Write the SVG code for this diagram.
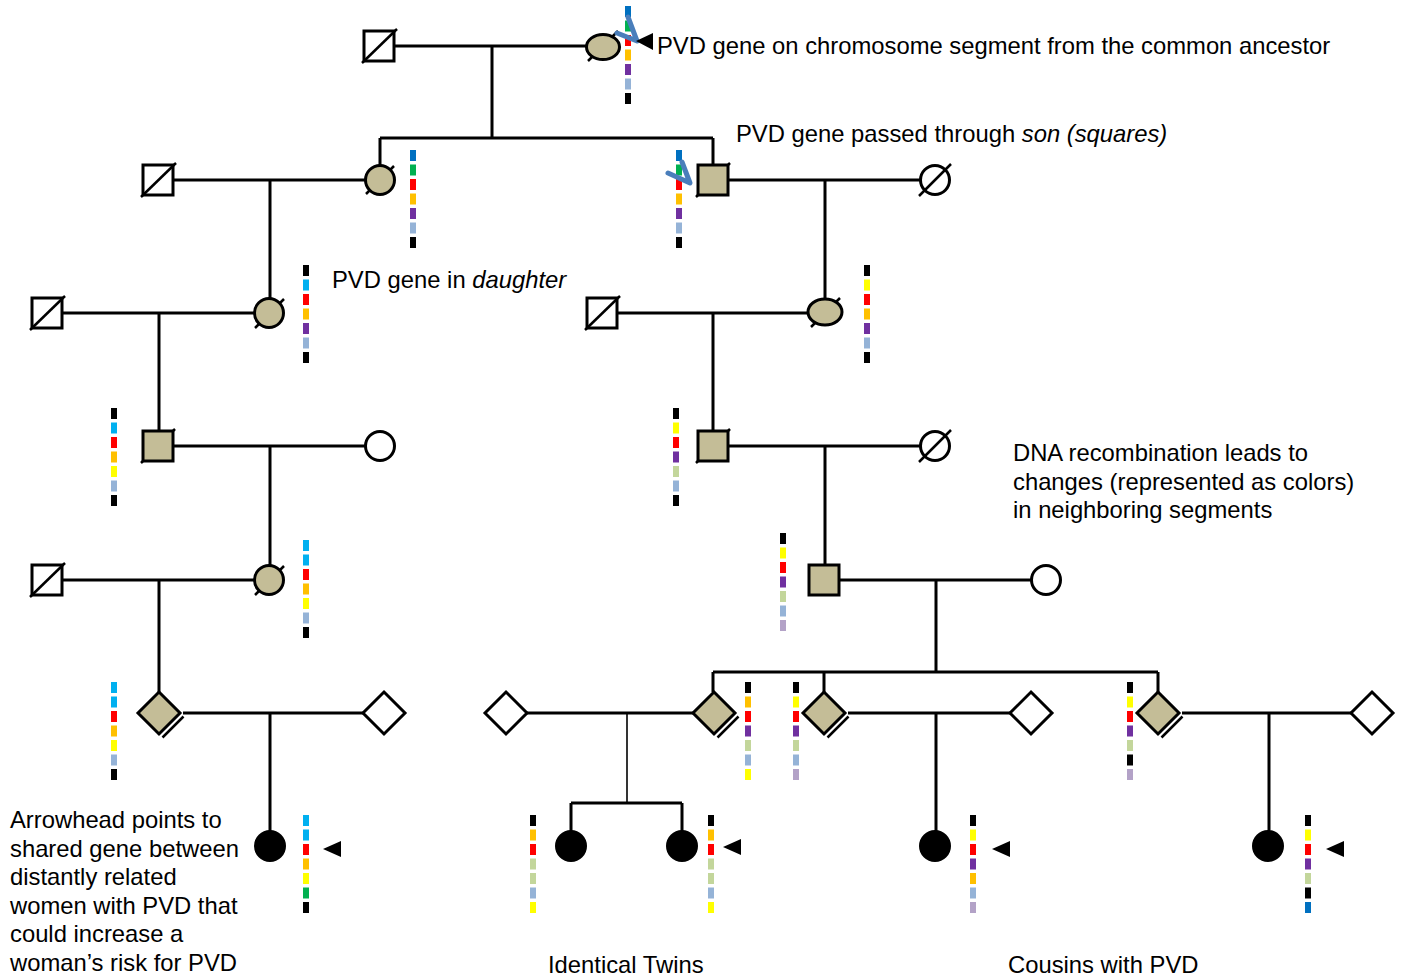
<svg xmlns="http://www.w3.org/2000/svg" width="1407" height="978" viewBox="0 0 1407 978">
<style>
.ln{stroke:#000;stroke-width:3;fill:none}
.thin{stroke:#000;stroke-width:1.6;fill:none}
.sym{stroke:#000;stroke-width:3}
.tan{fill:#C4BD97}
.wh{fill:#fff}
.bk{fill:#000}
.sl{stroke:#000;stroke-width:2.5}
.txt{font-family:"Liberation Sans",Arial,sans-serif;font-size:23.8px;fill:#000}
.k{fill:#000}.b{fill:#0070C0}.g{fill:#00B050}.r{fill:#FF0000}.o{fill:#FFC000}.p{fill:#7030A0}.lb{fill:#95B3D7}.c{fill:#00B0F0}.y{fill:#FFFF00}.lg{fill:#C3D69B}.lv{fill:#B3A2C7}
.ar{stroke:#4A7EBB;stroke-width:5;fill:none;stroke-linecap:round;stroke-linejoin:round}
</style>
<defs>
<symbol id="dbl" overflow="visible"><path d="M21,0 L0,21" stroke="#000" stroke-width="2.5" fill="none" transform="translate(3.5,3.5)"/></symbol>
</defs>
<rect width="1407" height="978" fill="#fff"/>

<g id="connectors">
<path class="ln" d="M394,46 H586 M492,46 V138 M380,138 H713 M380,138 V165 M713,138 V165"/>
<path class="ln" d="M173,180 H365 M270,180 V298 M728,180 H920 M825,180 V300"/>
<path class="ln" d="M62,313 H255 M159,313 V431 M617,313 H808 M713,313 V431"/>
<path class="ln" d="M173,446 H365 M270,446 V565 M728,446 H920 M825,446 V565"/>
<path class="ln" d="M62,580 H255 M159,580 V692 M839,580 H1031 M936,580 V672 M713,672 H1158 M713,672 V692 M824,672 V692 M1158,672 V692"/>
<path class="ln" d="M183,713 H363 M270,713 V831 M527,713 H693 M848,713 H1010 M936,713 V831 M1182,713 H1351 M1269,713 V831"/>
<path class="thin" d="M627,713 V803"/>
<path class="ln" d="M571,803 H682 M571,803 V831 M682,803 V831"/>
</g>

<!-- Generation 1 -->
<g id="gf1"><rect class="sym wh" x="364" y="31" width="30" height="30"/><line class="sl" x1="362" y1="63" x2="397" y2="29"/></g>
<g id="gm1"><line class="sl" x1="588" y1="61" x2="618" y2="31"/><ellipse class="sym tan" cx="603" cy="47" rx="16.5" ry="12.5"/></g>

<!-- Generation 2 -->
<g id="f2a"><rect class="sym wh" x="143" y="165" width="30" height="30"/><line class="sl" x1="141" y1="197" x2="176" y2="163"/></g>
<g id="d2a"><line class="sl" x1="366" y1="194" x2="394" y2="166"/><circle class="sym tan" cx="380" cy="180" r="14.5"/></g>
<g id="s2b"><line class="sl" x1="696" y1="197" x2="730" y2="163"/><rect class="sym tan" x="698" y="165" width="30" height="30"/></g>
<g id="m2b"><circle class="sym wh" cx="935" cy="180" r="14.5"/><line class="sl" x1="919" y1="196" x2="951" y2="164"/></g>

<!-- Generation 3 -->
<g id="f3a"><rect class="sym wh" x="32" y="298" width="30" height="30"/><line class="sl" x1="30" y1="330" x2="65" y2="296"/></g>
<g id="d3a"><line class="sl" x1="255" y1="328" x2="284" y2="299"/><circle class="sym tan" cx="269" cy="313" r="14.5"/></g>
<g id="f3b"><rect class="sym wh" x="587" y="298" width="30" height="30"/><line class="sl" x1="585" y1="330" x2="620" y2="296"/></g>
<g id="d3b"><line class="sl" x1="811" y1="327" x2="840" y2="298"/><ellipse class="sym tan" cx="825" cy="312" rx="17" ry="13"/></g>

<!-- Generation 4 -->
<g id="s4a"><line class="sl" x1="141" y1="463" x2="175" y2="429"/><rect class="sym tan" x="143" y="431" width="30" height="30"/></g>
<g id="m4a"><circle class="sym wh" cx="380" cy="446" r="14.5"/></g>
<g id="s4b"><line class="sl" x1="696" y1="463" x2="730" y2="429"/><rect class="sym tan" x="698" y="431" width="30" height="30"/></g>
<g id="m4b"><circle class="sym wh" cx="935" cy="446" r="14.5"/><line class="sl" x1="919" y1="462" x2="951" y2="430"/></g>

<!-- Generation 5 -->
<g id="f5a"><rect class="sym wh" x="32" y="565" width="30" height="30"/><line class="sl" x1="30" y1="597" x2="65" y2="563"/></g>
<g id="d5a"><line class="sl" x1="255" y1="595" x2="284" y2="566"/><circle class="sym tan" cx="269" cy="580" r="14.5"/></g>
<g id="s5b"><rect class="sym tan" x="809" y="565" width="30" height="30"/></g>
<g id="m5b"><circle class="sym wh" cx="1046" cy="580" r="14.5"/></g>

<!-- Generation 6 -->
<g id="p6a"><polygon class="sym tan" points="159,692 180,713 159,734 138,713"/><use href="#dbl" x="159" y="713"/></g>
<g id="q6a"><polygon class="sym wh" points="384,692 405,713 384,734 363,713"/></g>
<g id="q6b"><polygon class="sym wh" points="506,692 527,713 506,734 485,713"/></g>
<g id="p6b"><polygon class="sym tan" points="714,692 735,713 714,734 693,713"/><use href="#dbl" x="714" y="713"/></g>
<g id="p6c"><polygon class="sym tan" points="824,692 845,713 824,734 803,713"/><use href="#dbl" x="824" y="713"/></g>
<g id="q6c"><polygon class="sym wh" points="1031,692 1052,713 1031,734 1010,713"/></g>
<g id="p6d"><polygon class="sym tan" points="1158,692 1179,713 1158,734 1137,713"/><use href="#dbl" x="1158" y="713"/></g>
<g id="q6d"><polygon class="sym wh" points="1372,692 1393,713 1372,734 1351,713"/></g>

<!-- Generation 7 -->
<g id="w1"><circle class="sym bk" cx="270" cy="846" r="14.5"/></g>
<g id="w2"><circle class="sym bk" cx="571" cy="846" r="14.5"/></g>
<g id="w3"><circle class="sym bk" cx="682" cy="846" r="14.5"/></g>
<g id="w4"><circle class="sym bk" cx="935" cy="846" r="14.5"/></g>
<g id="w5"><circle class="sym bk" cx="1268" cy="846" r="14.5"/></g>

<!-- chromosome bars -->
<g id="bars">
<g transform="translate(625,6)"><rect class="b" width="6" height="11"/><rect class="g" y="14.5" width="6" height="11"/><rect class="r" y="29" width="6" height="11"/><rect class="o" y="43.5" width="6" height="11"/><rect class="p" y="58" width="6" height="11"/><rect class="lb" y="72.5" width="6" height="11"/><rect class="k" y="87" width="6" height="11"/></g>
<g transform="translate(410,150)"><rect class="b" width="6" height="11"/><rect class="g" y="14.5" width="6" height="11"/><rect class="r" y="29" width="6" height="11"/><rect class="o" y="43.5" width="6" height="11"/><rect class="p" y="58" width="6" height="11"/><rect class="lb" y="72.5" width="6" height="11"/><rect class="k" y="87" width="6" height="11"/></g>
<g transform="translate(676,150)"><rect class="b" width="6" height="11"/><rect class="g" y="14.5" width="6" height="11"/><rect class="r" y="29" width="6" height="11"/><rect class="o" y="43.5" width="6" height="11"/><rect class="p" y="58" width="6" height="11"/><rect class="lb" y="72.5" width="6" height="11"/><rect class="k" y="87" width="6" height="11"/></g>
<g transform="translate(303,265)"><rect class="k" width="6" height="11"/><rect class="c" y="14.5" width="6" height="11"/><rect class="r" y="29" width="6" height="11"/><rect class="o" y="43.5" width="6" height="11"/><rect class="p" y="58" width="6" height="11"/><rect class="lb" y="72.5" width="6" height="11"/><rect class="k" y="87" width="6" height="11"/></g>
<g transform="translate(864,265)"><rect class="k" width="6" height="11"/><rect class="y" y="14.5" width="6" height="11"/><rect class="r" y="29" width="6" height="11"/><rect class="o" y="43.5" width="6" height="11"/><rect class="p" y="58" width="6" height="11"/><rect class="lb" y="72.5" width="6" height="11"/><rect class="k" y="87" width="6" height="11"/></g>
<g transform="translate(111,408)"><rect class="k" width="6" height="11"/><rect class="c" y="14.5" width="6" height="11"/><rect class="r" y="29" width="6" height="11"/><rect class="o" y="43.5" width="6" height="11"/><rect class="y" y="58" width="6" height="11"/><rect class="lb" y="72.5" width="6" height="11"/><rect class="k" y="87" width="6" height="11"/></g>
<g transform="translate(673,408)"><rect class="k" width="6" height="11"/><rect class="y" y="14.5" width="6" height="11"/><rect class="r" y="29" width="6" height="11"/><rect class="p" y="43.5" width="6" height="11"/><rect class="lg" y="58" width="6" height="11"/><rect class="lb" y="72.5" width="6" height="11"/><rect class="k" y="87" width="6" height="11"/></g>
<g transform="translate(303,540)"><rect class="c" width="6" height="11"/><rect class="c" y="14.5" width="6" height="11"/><rect class="r" y="29" width="6" height="11"/><rect class="o" y="43.5" width="6" height="11"/><rect class="y" y="58" width="6" height="11"/><rect class="lb" y="72.5" width="6" height="11"/><rect class="k" y="87" width="6" height="11"/></g>
<g transform="translate(780,533)"><rect class="k" width="6" height="11"/><rect class="y" y="14.5" width="6" height="11"/><rect class="r" y="29" width="6" height="11"/><rect class="p" y="43.5" width="6" height="11"/><rect class="lg" y="58" width="6" height="11"/><rect class="lb" y="72.5" width="6" height="11"/><rect class="lv" y="87" width="6" height="11"/></g>
<g transform="translate(111,682)"><rect class="c" width="6" height="11"/><rect class="c" y="14.5" width="6" height="11"/><rect class="r" y="29" width="6" height="11"/><rect class="o" y="43.5" width="6" height="11"/><rect class="y" y="58" width="6" height="11"/><rect class="lb" y="72.5" width="6" height="11"/><rect class="k" y="87" width="6" height="11"/></g>
<g transform="translate(745,682)"><rect class="k" width="6" height="11"/><rect class="o" y="14.5" width="6" height="11"/><rect class="r" y="29" width="6" height="11"/><rect class="p" y="43.5" width="6" height="11"/><rect class="lg" y="58" width="6" height="11"/><rect class="lb" y="72.5" width="6" height="11"/><rect class="y" y="87" width="6" height="11"/></g>
<g transform="translate(793,682)"><rect class="k" width="6" height="11"/><rect class="y" y="14.5" width="6" height="11"/><rect class="r" y="29" width="6" height="11"/><rect class="p" y="43.5" width="6" height="11"/><rect class="lg" y="58" width="6" height="11"/><rect class="lb" y="72.5" width="6" height="11"/><rect class="lv" y="87" width="6" height="11"/></g>
<g transform="translate(1127,682)"><rect class="k" width="6" height="11"/><rect class="y" y="14.5" width="6" height="11"/><rect class="r" y="29" width="6" height="11"/><rect class="p" y="43.5" width="6" height="11"/><rect class="lg" y="58" width="6" height="11"/><rect class="k" y="72.5" width="6" height="11"/><rect class="lv" y="87" width="6" height="11"/></g>
<g transform="translate(303,815)"><rect class="c" width="6" height="11"/><rect class="c" y="14.5" width="6" height="11"/><rect class="r" y="29" width="6" height="11"/><rect class="o" y="43.5" width="6" height="11"/><rect class="y" y="58" width="6" height="11"/><rect class="g" y="72.5" width="6" height="11"/><rect class="k" y="87" width="6" height="11"/></g>
<g transform="translate(530,815)"><rect class="k" width="6" height="11"/><rect class="o" y="14.5" width="6" height="11"/><rect class="r" y="29" width="6" height="11"/><rect class="lg" y="43.5" width="6" height="11"/><rect class="lg" y="58" width="6" height="11"/><rect class="lb" y="72.5" width="6" height="11"/><rect class="y" y="87" width="6" height="11"/></g>
<g transform="translate(708,815)"><rect class="k" width="6" height="11"/><rect class="o" y="14.5" width="6" height="11"/><rect class="r" y="29" width="6" height="11"/><rect class="lg" y="43.5" width="6" height="11"/><rect class="lg" y="58" width="6" height="11"/><rect class="lb" y="72.5" width="6" height="11"/><rect class="y" y="87" width="6" height="11"/></g>
<g transform="translate(970,815)"><rect class="k" width="6" height="11"/><rect class="y" y="14.5" width="6" height="11"/><rect class="r" y="29" width="6" height="11"/><rect class="p" y="43.5" width="6" height="11"/><rect class="o" y="58" width="6" height="11"/><rect class="lb" y="72.5" width="6" height="11"/><rect class="lv" y="87" width="6" height="11"/></g>
<g transform="translate(1305,815)"><rect class="k" width="6" height="11"/><rect class="y" y="14.5" width="6" height="11"/><rect class="r" y="29" width="6" height="11"/><rect class="p" y="43.5" width="6" height="11"/><rect class="lg" y="58" width="6" height="11"/><rect class="k" y="72.5" width="6" height="11"/><rect class="b" y="87" width="6" height="11"/></g>
</g>

<!-- crossover marks and arrowheads -->
<g id="marks">
<polyline class="ar" points="617,33 637,41 628,17"/>
<polyline class="ar" points="668,173 690,183 682,162"/>
<polygon class="bk" points="636,41 653,33 653,50"/>
<polygon class="bk" points="323,849 341,841 341,857"/>
<polygon class="bk" points="723,847 741,839 741,855"/>
<polygon class="bk" points="992,849 1010,841 1010,857"/>
<polygon class="bk" points="1326,849 1344,841 1344,857"/>
</g>

<g id="labels" class="txt">
<text x="657" y="54">PVD gene on chromosome segment from the common ancestor</text>
<text x="736" y="142">PVD gene passed through <tspan font-style="italic">son (squares)</tspan></text>
<text x="332" y="288">PVD gene in <tspan font-style="italic">daughter</tspan></text>
<text x="1013" y="461">DNA recombination leads to</text>
<text x="1013" y="490">changes (represented as colors)</text>
<text x="1013" y="518">in neighboring segments</text>
<text x="10" y="828">Arrowhead points to</text>
<text x="10" y="857">shared gene between</text>
<text x="10" y="885">distantly related</text>
<text x="10" y="914">women with PVD that</text>
<text x="10" y="942">could increase a</text>
<text x="10" y="971">woman’s risk for PVD</text>
<text x="548" y="973">Identical Twins</text>
<text x="1008" y="973">Cousins with PVD</text>
</g>
</svg>
